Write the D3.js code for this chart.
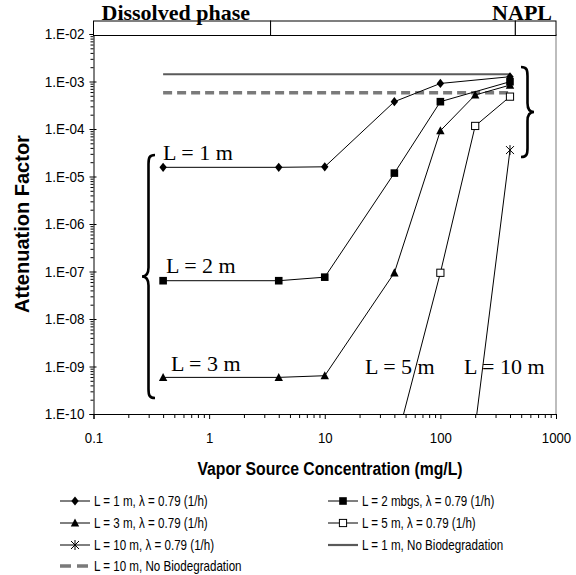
<!DOCTYPE html>
<html>
<head>
<meta charset="utf-8">
<script src="https://cdn.jsdelivr.net/npm/d3@7"></script>
<style>
  html, body { margin: 0; padding: 0; background: #fff; }
  svg { display: block; }
</style>
</head>
<body>
<svg id="chart" width="576" height="575"></svg>
<script>
// ---------------- DATA ----------------
const conc = [0.4, 4, 10, 40, 100, 200, 400];                 // mg/L
const af1m  = [1.56e-5, 1.56e-5, 1.6e-5, 3.76e-4, 9.1e-4, null, 1.26e-3];
const af2m  = [6.4e-8, 6.4e-8, 7.6e-8, 1.18e-5, 3.76e-4, null, 9.9e-4];
const af3m  = [5.9e-10, 5.9e-10, 6.4e-10, 9.4e-8, 9.2e-5, 5.2e-4, 8.4e-4];
const af5m  = [null, null, null, 1.8e-11, 9.4e-8, 1.16e-4, 4.8e-4];
const af10m = [null, null, null, null, null, 5.3e-11, 3.6e-5];
const noBioConc = [0.4, 400];
const afNoBio1m  = [1.42e-3, 1.42e-3];
const afNoBio10m = [5.8e-4, 5.8e-4];

const xTicks = [0.1, 1, 10, 100, 1000];
const xTickLabels = ["0.1", "1", "10", "100", "1000"];
const yTicks = [1e-10, 1e-9, 1e-8, 1e-7, 1e-6, 1e-5, 1e-4, 1e-3, 1e-2];
const yTickLabels = ["1.E-10","1.E-09","1.E-08","1.E-07","1.E-06","1.E-05","1.E-04","1.E-03","1.E-02"];

const legendNames = [
  "L = 1 m, \u03bb = 0.79 (1/h)",
  "L = 2 mbgs, \u03bb = 0.79 (1/h)",
  "L = 3 m, \u03bb = 0.79 (1/h)",
  "L = 5 m, \u03bb = 0.79 (1/h)",
  "L = 10 m, \u03bb = 0.79 (1/h)",
  "L = 1 m, No Biodegradation",
  "L = 10 m, No Biodegradation"
];
const curveLabels = ["L = 1 m", "L = 2 m", "L = 3 m", "L = 5 m", "L = 10 m"];
const curveLabelAt = [[0.4, 2.2e-5], [0.424, 9.3e-8], [0.468, 8.1e-10], [22.3, 6.9e-10], [160, 6.9e-10]];
const phaseBands = [
  {name: "Dissolved phase", from: 0.1, to: 3.4},
  {name: "", from: 3.4, to: 445},
  {name: "NAPL", from: 445, to: 1000}
];

// ---------------- SETUP ----------------
const svg = d3.select("#chart");
const x = d3.scaleLog().domain([0.1, 1000]).range([93.5, 556]);
const y = d3.scaleLog().domain([1e-10, 1e-2]).range([414, 34]);
const sans = "'Liberation Sans', Arial, sans-serif";
const serif = "'Liberation Serif', 'Times New Roman', serif";

function condense(sel, f) {
  sel.each(function() {
    const w = this.getComputedTextLength();
    this.setAttribute("textLength", w * f);
    this.setAttribute("lengthAdjust", "spacingAndGlyphs");
  });
}

// clip
svg.append("clipPath").attr("id", "plotclip").append("rect")
  .attr("x", x.range()[0]).attr("y", y.range()[1])
  .attr("width", x.range()[1] - x.range()[0]).attr("height", y.range()[0] - y.range()[1]);

// right gray border
svg.append("line")
  .attr("x1", x(1000)).attr("x2", x(1000)).attr("y1", y(1e-2)).attr("y2", y(1e-10))
  .attr("stroke", "#bdbdbd").attr("stroke-width", 2);

// ---------------- AXES ----------------
const minorX = [];
for (let e = -1; e < 3; e++) for (let m = 2; m <= 9; m++) minorX.push(m * Math.pow(10, e));
const minorY = [];
for (let e = -10; e < -2; e++) for (let m = 2; m <= 9; m++) minorY.push(m * Math.pow(10, e));

const gx = svg.append("g").attr("transform", `translate(0,${y(1e-10)})`);
gx.call(d3.axisBottom(x).tickValues(xTicks).tickSize(5).tickPadding(13)
  .tickFormat((d, i) => xTickLabels[i]));
gx.append("g").call(d3.axisBottom(x).tickValues(minorX).tickSize(4).tickFormat(""))
  .select(".domain").remove();
gx.selectAll("text").attr("font-family", sans).attr("font-size", 15).attr("fill", "#000");
gx.selectAll("path.domain, line").attr("stroke", "#000");
condense(gx.selectAll("text"), 0.88);

const gy = svg.append("g").attr("transform", `translate(${x(0.1)},0)`);
gy.call(d3.axisLeft(y).tickValues(yTicks).tickSize(4).tickPadding(5)
  .tickFormat((d, i) => yTickLabels[i]));
gy.selectAll(".tick").append("line").attr("x2", 3).attr("stroke", "#000");
gy.append("g").call(d3.axisLeft(y).tickValues(minorY).tickSize(3).tickFormat(""))
  .select(".domain").remove();
gy.selectAll("text").attr("font-family", sans).attr("font-size", 15).attr("fill", "#000");
gy.selectAll("path.domain, line").attr("stroke", "#000");
condense(gy.selectAll("text"), 0.9);

// axis titles
const xt = svg.append("text").attr("x", 330).attr("y", 475).attr("text-anchor", "middle")
  .attr("font-family", sans).attr("font-weight", "bold").attr("font-size", 18)
  .text("Vapor Source Concentration (mg/L)");
condense(xt, 0.875);
const yt = svg.append("text").attr("transform", "translate(29,224) rotate(-90)")
  .attr("text-anchor", "middle")
  .attr("font-family", sans).attr("font-weight", "bold").attr("font-size", 20)
  .text("Attenuation Factor");

// ---------------- PHASE BAR ----------------
const barTop = 21, barBot = 35.5;
svg.selectAll("rect.band").data(phaseBands).join("rect").attr("class", "band")
  .attr("x", d => x(d.from)).attr("width", d => x(d.to) - x(d.from))
  .attr("y", barTop).attr("height", barBot - barTop)
  .attr("fill", "#fff").attr("stroke", "#000").attr("stroke-width", 1);
svg.append("text").attr("x", x(phaseBands[0].from) + 8).attr("y", 20)
  .attr("font-family", serif).attr("font-weight", "bold").attr("font-size", 22)
  .text(phaseBands[0].name);
svg.append("text").attr("x", x(phaseBands[2].to) - 4).attr("y", 20).attr("text-anchor", "end")
  .attr("font-family", serif).attr("font-weight", "bold").attr("font-size", 22)
  .text(phaseBands[2].name);

// ---------------- MARKERS ----------------
const markers = {
  diamond: g => g.append("path").attr("d", "M0,-4.6L3.7,0L0,4.6L-3.7,0Z").attr("fill", "#000"),
  square: g => g.append("rect").attr("x", -3.8).attr("y", -3.8).attr("width", 7.6).attr("height", 7.6).attr("fill", "#000"),
  triangle: g => g.append("path").attr("d", "M0,-4.5L4.2,3.6L-4.2,3.6Z").attr("fill", "#000"),
  opensquare: g => g.append("rect").attr("x", -3.6).attr("y", -3.6).attr("width", 7.2).attr("height", 7.2)
      .attr("fill", "#fff").attr("stroke", "#000").attr("stroke-width", 1),
  star: g => g.append("path").attr("d", "M-4,-4L4,4M-4,4L4,-4M0,-5L0,5").attr("fill", "none")
      .attr("stroke", "#000").attr("stroke-width", 1)
};

const series = [
  {vals: af1m, marker: "diamond"},
  {vals: af2m, marker: "square"},
  {vals: af3m, marker: "triangle"},
  {vals: af5m, marker: "opensquare"},
  {vals: af10m, marker: "star"}
];

const plot = svg.append("g").attr("clip-path", "url(#plotclip)");
const line = d3.line().x(d => x(d[0])).y(d => y(d[1]));

// no-biodegradation lines
const nb1 = noBioConc.map((c, i) => [c, afNoBio1m[i]]);
const nb10 = noBioConc.map((c, i) => [c, afNoBio10m[i]]);
plot.append("path").attr("d", line(nb1)).attr("fill", "none")
  .attr("stroke", "#5a5a5a").attr("stroke-width", 2.2);
plot.append("path").attr("d", line(nb10)).attr("fill", "none")
  .attr("stroke", "#7a7a7a").attr("stroke-width", 3.3).attr("stroke-dasharray", "9,5");

series.forEach(s => {
  const pts = conc.map((c, i) => [c, s.vals[i]]).filter(p => p[1] != null);
  plot.append("path").attr("d", line(pts)).attr("fill", "none")
    .attr("stroke", "#000").attr("stroke-width", 1);
  pts.forEach(p => {
    const g = plot.append("g").attr("transform", `translate(${x(p[0])},${y(p[1])})`);
    markers[s.marker](g);
  });
});

// ---------------- CURVE LABELS ----------------
curveLabels.forEach((t, i) => {
  svg.append("text").attr("x", x(curveLabelAt[i][0])).attr("y", y(curveLabelAt[i][1]))
    .attr("font-family", serif).attr("font-size", 22).text(t);
});

// braces
function brace(x0, y0, y1, dir) {
  const d = dir * 6.5, tip = dir * 13, ym = (y0 + y1) / 2;
  const r = 9;
  return `M${x0},${y0} C${x0 + d * 0.9},${y0} ${x0 + d},${y0 + 3} ${x0 + d},${y0 + r}` +
    ` L${x0 + d},${ym - r} C${x0 + d},${ym - 3} ${x0 + d * 1.4},${ym} ${x0 + tip},${ym}` +
    ` C${x0 + d * 1.4},${ym} ${x0 + d},${ym + 3} ${x0 + d},${ym + r}` +
    ` L${x0 + d},${y1 - r} C${x0 + d},${y1 - 3} ${x0 + d * 0.9},${y1} ${x0},${y1}`;
}
svg.append("path").attr("d", brace(155, 155, 398, -1)).attr("fill", "none")
  .attr("stroke", "#000").attr("stroke-width", 2.6);
svg.append("path").attr("d", brace(521, 67, 157, 1)).attr("fill", "none")
  .attr("stroke", "#000").attr("stroke-width", 2.6);

// ---------------- LEGEND ----------------
const legendItems = [
  {name: legendNames[0], marker: "diamond", col: 0, row: 0},
  {name: legendNames[1], marker: "square", col: 1, row: 0},
  {name: legendNames[2], marker: "triangle", col: 0, row: 1},
  {name: legendNames[3], marker: "opensquare", col: 1, row: 1},
  {name: legendNames[4], marker: "star", col: 0, row: 2},
  {name: legendNames[5], marker: null, style: "solid", col: 1, row: 2},
  {name: legendNames[6], marker: null, style: "dashed", col: 0, row: 3}
];
const colX = [60, 328], rowY = [501, 523, 545, 566];
legendItems.forEach(it => {
  const g = svg.append("g").attr("transform", `translate(${colX[it.col]},${rowY[it.row]})`);
  if (it.style === "solid") {
    g.append("line").attr("x1", 0).attr("x2", 30).attr("stroke", "#5a5a5a").attr("stroke-width", 2.2);
  } else if (it.style === "dashed") {
    g.append("line").attr("x1", 0).attr("x2", 30).attr("stroke", "#7a7a7a").attr("stroke-width", 3.3)
      .attr("stroke-dasharray", "11,6");
  } else {
    g.append("line").attr("x1", 0).attr("x2", 30).attr("stroke", "#000").attr("stroke-width", 1);
    markers[it.marker](g.append("g").attr("transform", "translate(15,0)"));
  }
  const t = g.append("text").attr("x", 34).attr("y", 5)
    .attr("font-family", sans).attr("font-size", 14.5).text(it.name);
  condense(t, 0.8);
});
</script>
</body>
</html>
